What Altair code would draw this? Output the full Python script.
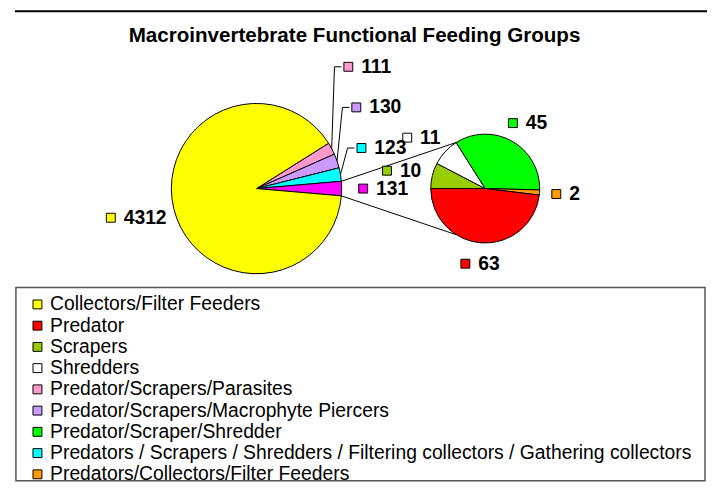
import math
import altair as alt
import pandas as pd

# ---------------- data ----------------
chart_title = "Macroinvertebrate Functional Feeding Groups"

legend_names = [
    "Collectors/Filter Feeders",
    "Predator",
    "Scrapers",
    "Shredders",
    "Predator/Scrapers/Parasites",
    "Predator/Scrapers/Macrophyte Piercers",
    "Predator/Scraper/Shredder",
    "Predators / Scrapers / Shredders / Filtering collectors / Gathering collectors",
    "Predators/Collectors/Filter Feeders",
]
legend_colors = ["#FFFF00", "#FF0000", "#99CC00", "#FFFFFF", "#FF99CC",
                 "#CC99FF", "#00FF00", "#00FFFF", "#FF9900"]
other_name = "Other"
other_color = "#FF00FF"

# main pie, clockwise drawing order
main_cats = [
    "Predator/Scrapers/Parasites",
    "Predator/Scrapers/Macrophyte Piercers",
    "Predators / Scrapers / Shredders / Filtering collectors / Gathering collectors",
    "Other",
    "Collectors/Filter Feeders",
]
main_vals = [111, 130, 123, 131, 4312]

# secondary pie (breakdown of "Other"), clockwise from 9 o'clock
sec_cats = ["Scrapers", "Shredders", "Predator/Scraper/Shredder",
            "Predators/Collectors/Filter Feeders", "Predator"]
sec_vals = [10, 11, 45, 2, 63]

# ---------------- layout ----------------
W, H = 706, 478
CX1, CY1, R1 = 251, 180, 86
CX2, CY2, R2 = 482, 180, 55
LBL_FS = 19.5
DIGIT_W = 0.556 * LBL_FS
TWO_PI = 2 * math.pi


def spans(vals, start):
    tot = sum(vals)
    out, a = [], start
    for v in vals:
        b = a + v / tot * TWO_PI
        out.append((a, b))
        a = b
    return out


def polar(cx, cy, r, t):
    return cx + r * math.sin(t), cy - r * math.cos(t)


i_other = main_cats.index(other_name)
start1 = math.pi / 2 - (sum(main_vals[:i_other]) + main_vals[i_other] / 2) / sum(main_vals) * TWO_PI
start2 = 1.5 * math.pi
sp1 = spans(main_vals, start1)
sp2 = spans(sec_vals, start2)

labels = []  # cat, text, left, y
segs = []

# main pie labels
gpos = []
for (a, b), c, v in zip(sp1, main_cats, main_vals):
    mid = (a + b) / 2
    d = 125 if c == "Collectors/Filter Feeders" else 128
    gx, gy = polar(CX1, CY1, d, mid)
    gpos.append([gx, gy, mid, False])
# spread the stacked right-hand labels upward
prev = gpos[i_other][1]
for i in range(i_other - 1, -1, -1):
    new_y = min(gpos[i][1], prev - 41)
    gpos[i][3] = abs(new_y - gpos[i][1]) > 5
    gpos[i][1] = new_y
    prev = new_y
for i, (c, v) in enumerate(zip(main_cats, main_vals)):
    gx, gy, mid, moved = gpos[i]
    txt = str(v)
    w = 18 + len(txt) * DIGIT_W
    left = gx - w / 2
    labels.append((c, txt, left, gy))
    if moved:
        ex, ey = polar(CX1, CY1, R1, mid)
        segs.append((ex, ey, left - 9, gy))
        segs.append((left - 9, gy, left - 2, gy))

# secondary pie labels: label box pushed out from the edge along the mid angle
GAP2 = 12
for (a, b), c, v in zip(sp2, sec_cats, sec_vals):
    mid = (a + b) / 2
    txt = str(v)
    w = 18 + len(txt) * DIGIT_W
    h = 18
    ax, ay = polar(CX2, CY2, R2 + GAP2, mid)
    gx = ax + math.sin(mid) * w / 2
    gy = ay - math.cos(mid) * h / 2
    labels.append((c, txt, gx - w / 2, gy))

# connector lines between the two pies
a_o, b_o = sp1[i_other]
p1 = polar(CX1, CY1, R1, a_o)
q1 = polar(CX2, CY2, R2, -math.radians(32))
p2 = polar(CX1, CY1, R1, b_o)
q2 = polar(CX2, CY2, R2, math.pi + math.radians(32))
segs.append((p1[0], p1[1], q1[0], q1[1]))
segs.append((p2[0], p2[1], q2[0], q2[1]))

lab_df = pd.DataFrame({
    "cat": [l[0] for l in labels],
    "label": [l[1] for l in labels],
    "sx": [l[2] + 5 for l in labels],
    "tx": [l[2] + 18 for l in labels],
    "y": [l[3] for l in labels],
})
seg_df = pd.DataFrame(segs, columns=["x1", "y1", "x2", "y2"])

color_scale = alt.Scale(domain=legend_names + [other_name], range=legend_colors + [other_color])
color_enc = alt.Color(
    "cat:N", scale=color_scale,
    legend=alt.Legend(
        values=legend_names, orient="none", legendX=20, legendY=287.25, title=None,
        symbolType="square", symbolSize=81, symbolStrokeColor="black",
        symbolStrokeWidth=1, symbolOpacity=1, labelFont="Liberation Sans",
        labelFontSize=19.5, labelColor="black", rowPadding=0.45, labelOffset=3,
        labelLimit=700, padding=0,
    ),
)

main_df = pd.DataFrame({"cat": main_cats, "value": main_vals, "ord": list(range(len(main_cats)))})
sec_df = pd.DataFrame({"cat": sec_cats, "value": sec_vals, "ord": list(range(len(sec_cats)))})

main_arc = alt.Chart(main_df).mark_arc(outerRadius=R1, stroke="black", strokeWidth=1).encode(
    theta=alt.Theta("value:Q", stack=True,
                    scale=alt.Scale(domain=[0, sum(main_vals)], range=[start1, start1 + TWO_PI])),
    order=alt.Order("ord:Q"),
    color=color_enc,
    x=alt.value(CX1), y=alt.value(CY1),
)
sec_arc = alt.Chart(sec_df).mark_arc(outerRadius=R2, stroke="black", strokeWidth=1).encode(
    theta=alt.Theta("value:Q", stack=True,
                    scale=alt.Scale(domain=[0, sum(sec_vals)], range=[start2, start2 + TWO_PI])),
    order=alt.Order("ord:Q"),
    color=color_enc,
    x=alt.value(CX2), y=alt.value(CY2),
)

one = pd.DataFrame({"t": [chart_title]})
top_rule = alt.Chart(one).mark_rule(color="black", strokeWidth=2).encode(
    x=alt.value(7), x2=alt.value(W), y=alt.value(1))
title_mark = alt.Chart(one).mark_text(
    font="Liberation Sans", fontSize=20.8, fontWeight="bold", color="black",
    align="center", baseline="middle").encode(
    text="t:N", x=alt.value(W / 2 - 3), y=alt.value(26))
legend_box = alt.Chart(one).mark_rect(fillOpacity=0, stroke="#555555", strokeWidth=1.5).encode(
    x=alt.value(8), x2=alt.value(704), y=alt.value(280), y2=alt.value(475))

seg_layer = alt.Chart(seg_df).mark_rule(color="black", strokeWidth=1).encode(
    x=alt.X("x1:Q", scale=None, axis=None), y=alt.Y("y1:Q", scale=None, axis=None),
    x2="x2:Q", y2="y2:Q")

sw_layer = alt.Chart(lab_df).mark_square(size=81, stroke="black", strokeWidth=1, opacity=1).encode(
    x=alt.X("sx:Q", scale=None, axis=None), y=alt.Y("y:Q", scale=None, axis=None),
    color=color_enc)

txt_layer = alt.Chart(lab_df).mark_text(
    font="Liberation Sans", fontSize=LBL_FS, fontWeight="bold", color="black",
    align="left", baseline="middle").encode(
    x=alt.X("tx:Q", scale=None, axis=None), y=alt.Y("y:Q", scale=None, axis=None),
    text="label:N")

chart = alt.layer(
    top_rule, title_mark, legend_box, main_arc, sec_arc, seg_layer, sw_layer, txt_layer
).resolve_scale(theta="independent").properties(
    width=W, height=H, padding=0,
    autosize=alt.AutoSizeParams(type="none"),
).configure_view(stroke=None)

chart.save("out.html", embed_options={"renderer": "svg", "actions": False})
